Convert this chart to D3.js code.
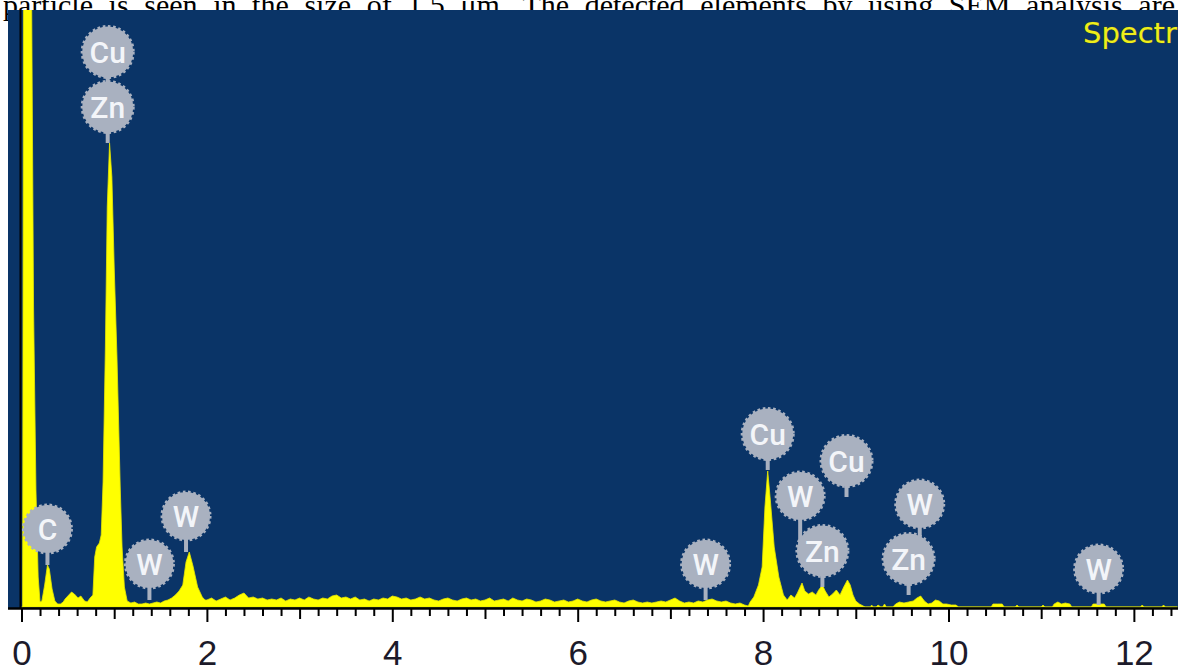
<!DOCTYPE html>
<html>
<head>
<meta charset="utf-8">
<script src="https://cdn.jsdelivr.net/npm/d3@7"></script>
<style>
  html, body { margin: 0; padding: 0; background: #ffffff; }
  svg { display: block; }
</style>
</head>
<body>
<svg id="chart" width="1178" height="671"></svg>
<script>
// ---- EDS spectrum: energy (keV) and counts per channel ----
const energyKeV = [
  0.000, 0.012, 0.020, 0.030, 0.060, 0.110, 0.130, 0.156, 0.180, 0.200,
  0.220, 0.250, 0.280, 0.300, 0.330, 0.360, 0.390, 0.420, 0.450, 0.470,
  0.500, 0.540, 0.570, 0.610, 0.640, 0.680, 0.710, 0.740, 0.770, 0.790,
  0.810, 0.840, 0.860, 0.880, 0.905, 0.925, 0.950, 0.975, 1.000, 1.030,
  1.065, 1.085, 1.110, 1.140, 1.180, 1.220, 1.260, 1.300, 1.340, 1.380,
  1.420, 1.460, 1.500, 1.540, 1.580, 1.620, 1.660, 1.700, 1.740, 1.775,
  1.810, 1.850, 1.900, 1.950, 1.980,
  2.00, 2.05, 2.10, 2.15, 2.20, 2.25, 2.30, 2.35, 2.40, 2.45,
  2.50, 2.55, 2.60, 2.65, 2.70, 2.75, 2.80, 2.85, 2.90, 2.95,
  3.00, 3.05, 3.10, 3.15, 3.20, 3.25, 3.30, 3.35, 3.40, 3.45,
  3.50, 3.55, 3.60, 3.65, 3.70, 3.75, 3.80, 3.85, 3.90, 3.95,
  4.00, 4.05, 4.10, 4.15, 4.20, 4.25, 4.30, 4.35, 4.40, 4.45,
  4.50, 4.55, 4.60, 4.65, 4.70, 4.75, 4.80, 4.85, 4.90, 4.95,
  5.00, 5.05, 5.10, 5.15, 5.20, 5.25, 5.30, 5.35, 5.40, 5.45,
  5.50, 5.55, 5.60, 5.65, 5.70, 5.75, 5.80, 5.85, 5.90, 5.95,
  6.00, 6.05, 6.10, 6.15, 6.20, 6.25, 6.30, 6.35, 6.40, 6.45,
  6.50, 6.55, 6.60, 6.65, 6.70, 6.75, 6.80, 6.85, 6.90, 6.95,
  7.00, 7.05, 7.10, 7.15, 7.20, 7.25, 7.30, 7.35, 7.40, 7.45,
  7.50, 7.55, 7.60, 7.65, 7.70, 7.75, 7.80, 7.84,
  7.86, 7.90, 7.95, 7.99, 8.02, 8.05, 8.08, 8.12, 8.17, 8.22,
  8.26, 8.30, 8.34, 8.37, 8.42, 8.45, 8.49, 8.53, 8.57, 8.60,
  8.64, 8.67, 8.71, 8.75, 8.79, 8.83, 8.87, 8.91, 8.94, 8.97,
  9.00, 9.04, 9.08, 9.10, 9.16, 9.17, 9.19, 9.22, 9.24, 9.27,
  9.29, 9.31, 9.33, 9.40, 9.43, 9.47, 9.52, 9.57, 9.62, 9.66,
  9.70, 9.74, 9.78, 9.82, 9.86, 9.90, 9.94, 9.98, 10.03, 10.08,
  10.11, 10.46, 10.48, 10.53, 10.58, 10.60, 10.72, 10.74, 10.76, 11.00,
  11.02, 11.04, 11.12, 11.14, 11.18, 11.22, 11.26, 11.31, 11.33, 11.54,
  11.56, 11.62, 11.68, 11.70, 12.07, 12.09, 12.11, 12.30, 12.32, 12.34,
  12.47
];
const counts = [
  0, 0, 500, 1500, 1500, 600, 300, 117, 30, 5,
  6, 22, 42, 38, 18, 6, 3, 3, 5, 8,
  11, 15, 13, 9, 11, 6, 5, 9, 12, 50,
  60, 64, 72, 125, 260, 400, 464, 430, 340, 250,
  120, 60, 20, 6, 4, 5, 3, 3, 4, 3,
  4, 5, 4, 6, 7, 9, 12, 16, 22, 45,
  55, 41, 20, 10, 7,
  7, 9, 6, 8, 10, 7, 9, 12, 14, 9,
  10, 8, 9, 7, 8, 7, 9, 6, 8, 7,
  9, 7, 10, 8, 7, 9, 8, 11, 12, 9,
  10, 8, 10, 7, 8, 6, 8, 7, 9, 8,
  11, 10, 8, 9, 7, 8, 10, 8, 9, 7,
  6, 8, 9, 7, 6, 8, 9, 7, 8, 6,
  7, 9, 6, 7, 8, 6, 9, 7, 6, 8,
  7, 5, 6, 8, 7, 5, 6, 7, 5, 6,
  8, 6, 5, 7, 8, 6, 5, 6, 7, 5,
  4, 6, 7, 5, 4, 5, 4, 5, 6, 5,
  7, 9, 6, 4, 5, 4, 6, 5, 7, 8,
  6, 5, 6, 4, 3, 4, 2, 1,
  5, 10, 22, 40, 100, 136, 105, 60, 30, 12,
  7, 12, 9, 14, 24, 16, 13, 15, 12, 17,
  22, 16, 10, 13, 17, 12, 20, 27, 22, 12,
  6, 3, 1, 0, 0, 2, 0, 0, 2, 0,
  0, 3, 0, 0, 3, 5, 4, 5, 6, 9,
  11, 6, 3, 4, 7, 6, 3, 3, 2, 2,
  0, 0, 3, 3, 3, 0, 0, 2, 0, 0,
  2, 0, 0, 3, 5, 3, 4, 3, 0, 0,
  3, 3, 3, 0, 0, 2, 0, 0, 2, 0,
  0
];

// ---- peak identification markers ----
const markerElements = ["Zn", "Cu", "C", "W", "W", "W", "Cu", "Zn", "W", "Cu", "Zn", "W", "W"];
const markerEnergies = [0.93, 0.93, 0.28, 1.38, 1.775, 7.38, 8.05, 8.64, 8.40, 8.90, 9.57, 9.69, 11.62];
const markerCounts   = [464, 464, 42, 7, 55, 7, 137, 20, 20, 110, 12, 12, 2];
const markerStack    = [0, 1, 0, 0, 0, 0, 0, 0, 1, 0, 0, 1, 0];

// ---- axis ----
const xTickLabels = [0, 2, 4, 6, 8, 10, 12];
const spectrumTitle = "Spectrum 1";
const captionText = "particle is seen in the size of 1.5 μm. The detected elements by using SEM analysis are";

// ---- layout ----
const plot = { left: 8, right: 1178, top: 10, bottom: 608 };
const colors = {
  bg: "#0a3467",
  spectrum: "#ffff00",
  marker: "#a9b1c0",
  markerText: "#f3f5f9",
  title: "#eeee1a"
};

const svg = d3.select("#chart");

const x = d3.scaleLinear().domain([-0.1456, 12.476]).range([plot.left, plot.right]);
const y = d3.scaleLinear().domain([0, 597]).range([607, 10]);

// caption line from the surrounding document (mostly hidden behind the plot)
const cap = svg.append("text")
  .attr("x", 3)
  .attr("y", 15)
  .attr("font-family", "'Liberation Serif', 'Times New Roman', serif")
  .attr("font-size", 30)
  .attr("fill", "#000")
  .text(captionText);
const natural = cap.node().getComputedTextLength();
const gaps = captionText.split(" ").length - 1;
cap.attr("word-spacing", (1172 - natural) / gaps);

// plot background
svg.append("rect")
  .attr("x", plot.left).attr("y", plot.top)
  .attr("width", plot.right - plot.left).attr("height", plot.bottom - plot.top)
  .attr("fill", colors.bg);

svg.append("clipPath").attr("id", "plotClip")
  .append("rect")
  .attr("x", plot.left).attr("y", plot.top)
  .attr("width", plot.right - plot.left).attr("height", plot.bottom - plot.top);

// spectrum
const spectrum = energyKeV.map((e, i) => ({ e, c: counts[i] }));
const area = d3.area()
  .x(d => x(d.e))
  .y0(y(0))
  .y1(d => y(d.c))
  .curve(d3.curveLinear);

svg.append("path")
  .datum(spectrum)
  .attr("clip-path", "url(#plotClip)")
  .attr("d", area)
  .attr("fill", colors.spectrum)
  .attr("stroke", "#e6e600")
  .attr("stroke-width", 0.8);

// zero-energy reference line
svg.append("line")
  .attr("x1", x(0) - 1).attr("x2", x(0) - 1)
  .attr("y1", plot.top).attr("y2", plot.bottom)
  .attr("stroke", "#000").attr("stroke-width", 2);

// axis: baseline and three tiers of ticks
const axisG = svg.append("g").attr("transform", `translate(0,${plot.bottom})`);
axisG.append("line")
  .attr("x1", plot.left).attr("x2", plot.right)
  .attr("y1", 0.5).attr("y2", 0.5)
  .attr("stroke", "#000").attr("stroke-width", 2.4);

const minorTicks = d3.range(0, 12.45, 0.2).filter(v => Math.abs(v - Math.round(v)) > 1e-6);
const oddTicks = [1, 3, 5, 7, 9, 11];
function tickTier(values, size) {
  const g = axisG.append("g")
    .call(d3.axisBottom(x).tickValues(values).tickSize(size).tickFormat(""));
  g.select(".domain").remove();
  g.selectAll(".tick line").attr("stroke", "#000").attr("stroke-width", 2);
  return g;
}
tickTier(minorTicks, 8);
tickTier(oddTicks, 11);
tickTier(xTickLabels, 14);

const labelG = axisG.append("g")
  .call(d3.axisBottom(x).tickValues(xTickLabels).tickSize(0).tickFormat(d3.format("d")));
labelG.select(".domain").remove();
labelG.selectAll(".tick text")
  .attr("y", 57)
  .attr("dy", 0)
  .attr("fill", "#1c1a2a")
  .attr("font-family", "'Liberation Sans', Arial, sans-serif")
  .attr("font-size", 35);

// element markers
const markers = markerElements.map((el, i) => {
  const anchorY = y(markerCounts[i]);
  const cy = anchorY - 36 - 55 * markerStack[i];
  return {
    el,
    cx: x(markerEnergies[i]),
    cy,
    stemEnd: markerStack[i] ? cy + 55 : anchorY,
    r: el.length > 1 ? 25.5 : 24
  };
});

const mg = svg.append("g");
mg.selectAll("line.stem")
  .data(markers)
  .join("line")
  .attr("class", "stem")
  .attr("x1", d => d.cx).attr("x2", d => d.cx)
  .attr("y1", d => d.cy).attr("y2", d => d.stemEnd)
  .attr("stroke", colors.marker)
  .attr("stroke-width", 4);

mg.selectAll("circle.badge")
  .data(markers)
  .join("circle")
  .attr("class", "badge")
  .attr("cx", d => d.cx).attr("cy", d => d.cy)
  .attr("r", d => d.r)
  .attr("fill", colors.marker)
  .attr("stroke", colors.marker)
  .attr("stroke-width", 3)
  .attr("stroke-dasharray", "2.6,2.6");

mg.selectAll("text.badge-label")
  .data(markers)
  .join("text")
  .attr("class", "badge-label")
  .attr("x", d => d.cx).attr("y", d => d.cy)
  .attr("dy", "0.36em")
  .attr("text-anchor", "middle")
  .attr("font-family", "Roboto, 'DejaVu Sans', sans-serif")
  .attr("font-weight", 500)
  .attr("font-size", 30)
  .attr("fill", colors.markerText)
  .text(d => d.el);

// spectrum name, top right
svg.append("text")
  .attr("x", 1083)
  .attr("y", 43)
  .attr("font-family", "'DejaVu Sans', sans-serif")
  .attr("font-size", 29)
  .attr("fill", colors.title)
  .attr("stroke", "#5a5a10")
  .attr("stroke-width", 0.6)
  .attr("paint-order", "stroke")
  .text(spectrumTitle);
</script>
</body>
</html>
